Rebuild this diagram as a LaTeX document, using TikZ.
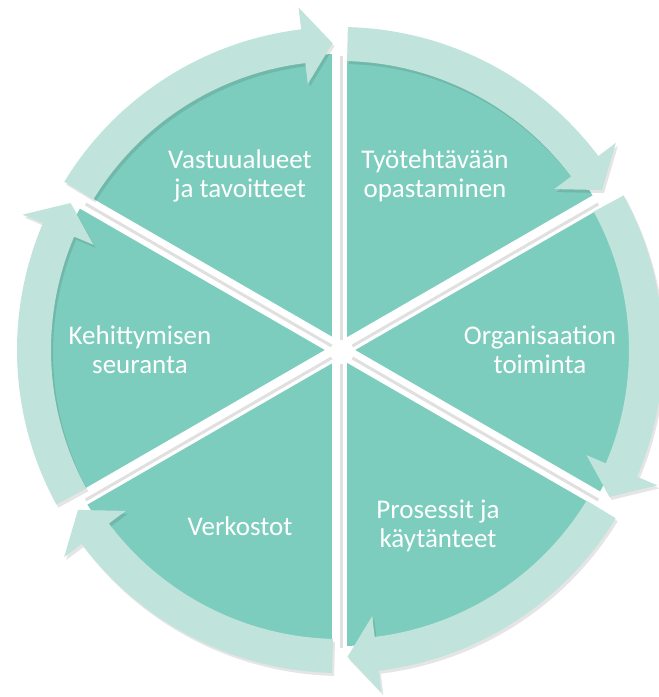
\documentclass[tikz,border=0pt]{standalone}
\usepackage{fontspec}
\setmainfont{Carlito}
\definecolor{pieteal}{HTML}{7DCDBE}
\definecolor{ringlight}{HTML}{C0E3DC}
\tikzset{
  lbl/.style={text=white, font=\fontsize{27}{29}\selectfont, align=center, inner sep=0pt},
  ringarrow/.style={fill=ringlight, draw=none},
  ringshadow/.style={fill=black, opacity=0.10, draw=none},
  spokegap/.style={draw=white, line width=15pt},
  spokeshade/.style={draw=black!12, line width=3pt}
}
\begin{document}
\begin{tikzpicture}[x=1pt,y=1pt]
\useasboundingbox (-340,-347) rectangle (319,350);
\fill[white] (-340,-347) rectangle (319,350);
% pie
\fill[pieteal] (0,0) circle[radius=296pt];
\foreach \a in {90,30,-30,-90,-150,150}{
  \draw[spokegap] (0,0) -- (\a:305pt);
}
\foreach \a in {90,30,-30,-90,-150,150}{
  \draw[spokeshade, shift={(2pt,-2pt)}] (\a:12pt) -- (\a:296pt);
}
\fill[white] (0,0) circle[radius=9pt];
% ring arrows
\foreach \s in {150,90,30,-30,-90,-150}{
  \pgfmathsetmacro\ta{\s-1.4}
  \pgfmathsetmacro\tp{\s-60+1.4}
  \pgfmathsetmacro\hb{\s-60+6.9}
  \fill[ringshadow, shift={(2pt,-3pt)}] (\ta:323pt) arc[start angle=\ta, end angle=\hb, radius=323pt] -- (\hb:345pt) -- (\tp:307pt) -- (\hb:268pt) -- (\hb:289pt) arc[start angle=\hb, end angle=\ta, radius=289pt] -- cycle;
  \fill[ringarrow] (\ta:323pt) arc[start angle=\ta, end angle=\hb, radius=323pt] -- (\hb:345pt) -- (\tp:307pt) -- (\hb:268pt) -- (\hb:289pt) arc[start angle=\hb, end angle=\ta, radius=289pt] -- cycle;
}
% labels
\node[lbl] (t1) at (-100,174) {Vastuualueet\\ja tavoitteet};
\node[lbl] (t2) at (95,174) {Työtehtävään\\opastaminen};
\node[lbl] (t3) at (200,0) {Organisaation\\toiminta};
\node[lbl] (t4) at (98,-176) {Prosessit ja\\käytänteet};
\node[lbl] (t5) at (-100,-176) {Verkostot};
\node[lbl] (t6) at (-200,0) {Kehittymisen\\seuranta};
\end{tikzpicture}
\end{document}
